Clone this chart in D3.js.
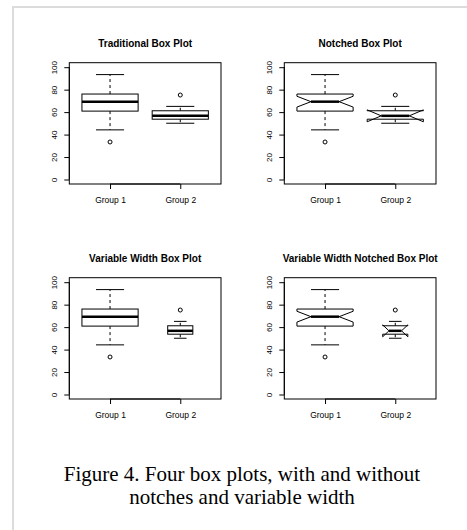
<!DOCTYPE html>
<html>
<head>
<meta charset="utf-8">
<script src="https://cdn.jsdelivr.net/npm/d3@7"></script>
<style>
  html, body { margin: 0; padding: 0; background: #fff; }
  svg { display: block; }
</style>
</head>
<body>
<svg id="fig" width="467" height="530"></svg>
<script>
// Group names and five-number summaries (lower whisker, Q1, median, Q3, upper whisker)
const groups = ["Group 1", "Group 2"];
const lowerWhisker = [44.2, 50.1];
const q1 = [60.9, 53.7];
const medians = [69.3, 56.7];
const q3 = [76.1, 61.2];
const upperWhisker = [93.4, 65.1];
const outliers = [[33.4], [75.2]];
const counts = [25, 5];
const yTicks = [0, 20, 40, 60, 80, 100];

const panels = [
  { title: "Traditional Box Plot", notch: false, varwidth: false },
  { title: "Notched Box Plot", notch: true, varwidth: false },
  { title: "Variable Width Box Plot", notch: false, varwidth: true },
  { title: "Variable Width Notched Box Plot", notch: true, varwidth: true }
];

const svg = d3.select("#fig");
svg.append("rect").attr("width", 467).attr("height", 530).attr("fill", "#fff");

// thin grey frame (left and top edges)
svg.append("path")
  .attr("d", "M13,530 L13,7 L467,7")
  .attr("fill", "none")
  .attr("stroke", "#dcdcdc")
  .attr("stroke-width", 2);

const plotW = 151.7, plotH = 121.3;
const origins = [[69.3, 62.7], [284.3, 62.7], [69.3, 277.7], [284.3, 277.7]];

const x = d3.scaleLinear().domain([0.42, 2.58]).range([0, plotW]);
const y = d3.scaleLinear().domain([-4, 104]).range([plotH, 0]);

const sans = "'Liberation Sans', Arial, Helvetica, sans-serif";
const maxN = d3.max(counts);

panels.forEach((p, pi) => {
  const [ox, oy] = origins[pi];
  const g = svg.append("g").attr("transform", `translate(${ox},${oy})`);

  // title
  g.append("text")
    .attr("x", plotW / 2).attr("y", -15.5)
    .attr("text-anchor", "middle")
    .attr("font-family", sans).attr("font-weight", "bold").attr("font-size", 10)
    .attr("fill", "#000")
    .text(p.title);

  // y axis
  const ya = g.append("g")
    .call(d3.axisLeft(y).tickValues(yTicks).tickSize(5).tickFormat(d3.format("d")));
  ya.select(".domain").attr("d", `M0,${y(0)}V${y(100)}`).attr("stroke", "#000");
  ya.selectAll(".tick line").attr("stroke", "#000");
  ya.selectAll(".tick text")
    .attr("x", 0).attr("y", -12).attr("dy", 0)
    .attr("transform", "rotate(-90)")
    .attr("text-anchor", "middle")
    .attr("font-family", sans).attr("font-size", 8).attr("fill", "#000");

  // x axis
  const xa = g.append("g").attr("transform", `translate(0,${plotH})`)
    .call(d3.axisBottom(x).tickValues([1, 2]).tickSize(5).tickFormat((d, i) => groups[i]));
  xa.select(".domain").attr("d", `M${x(1)},0H${x(2)}`).attr("stroke", "#000");
  xa.selectAll(".tick line").attr("stroke", "#000");
  xa.selectAll(".tick text")
    .attr("y", 19).attr("dy", 0)
    .attr("font-family", sans).attr("font-size", 8.5).attr("fill", "#000");

  // plot frame
  g.append("rect")
    .attr("x", 0).attr("y", 0).attr("width", plotW).attr("height", plotH)
    .attr("fill", "none").attr("stroke", "#000").attr("stroke-width", 1);

  groups.forEach((name, i) => {
    const cx = x(i + 1);
    const wUnits = p.varwidth ? 0.8 * Math.sqrt(counts[i] / maxN) : 0.8;
    const hw = (x(1 + wUnits / 2) - x(1)); // half box width in px
    const capHw = hw / 2;
    const ink = "#000";

    // whiskers (dashed) and caps
    g.append("line")
      .attr("x1", cx).attr("x2", cx)
      .attr("y1", y(q3[i])).attr("y2", y(upperWhisker[i]))
      .attr("stroke", ink).attr("stroke-dasharray", "3,3");
    g.append("line")
      .attr("x1", cx).attr("x2", cx)
      .attr("y1", y(q1[i])).attr("y2", y(lowerWhisker[i]))
      .attr("stroke", ink).attr("stroke-dasharray", "3,3");
    [upperWhisker[i], lowerWhisker[i]].forEach(v => {
      g.append("line")
        .attr("x1", cx - capHw).attr("x2", cx + capHw)
        .attr("y1", y(v)).attr("y2", y(v))
        .attr("stroke", ink);
    });

    if (p.notch) {
      const half = 1.58 * (q3[i] - q1[i]) / Math.sqrt(counts[i]);
      const lo = medians[i] - half, hi = medians[i] + half;
      const pts = [
        [-hw, q1[i]], [hw, q1[i]], [hw, lo], [hw / 2, medians[i]], [hw, hi],
        [hw, q3[i]], [-hw, q3[i]], [-hw, hi], [-hw / 2, medians[i]], [-hw, lo]
      ];
      g.append("path")
        .attr("d", d3.line().x(d => cx + d[0]).y(d => y(d[1]))(pts) + "Z")
        .attr("fill", "#fff").attr("stroke", ink).attr("stroke-width", 1);
      g.append("line")
        .attr("x1", cx - hw / 2).attr("x2", cx + hw / 2)
        .attr("y1", y(medians[i])).attr("y2", y(medians[i]))
        .attr("stroke", ink).attr("stroke-width", 2.5);
    } else {
      g.append("rect")
        .attr("x", cx - hw).attr("width", 2 * hw)
        .attr("y", y(q3[i])).attr("height", y(q1[i]) - y(q3[i]))
        .attr("fill", "#fff").attr("stroke", ink).attr("stroke-width", 1);
      g.append("line")
        .attr("x1", cx - hw).attr("x2", cx + hw)
        .attr("y1", y(medians[i])).attr("y2", y(medians[i]))
        .attr("stroke", ink).attr("stroke-width", 2.5);
    }

    outliers[i].forEach(v => {
      g.append("circle")
        .attr("cx", cx).attr("cy", y(v)).attr("r", 2)
        .attr("fill", "none").attr("stroke", ink).attr("stroke-width", 1);
    });
  });
});

// caption
const serif = "'Liberation Serif', 'Times New Roman', Times, serif";
const caption = ["Figure 4. Four box plots, with and without", "notches and variable width"];
svg.append("text")
  .attr("text-anchor", "middle")
  .attr("font-family", serif).attr("font-size", 21).attr("fill", "#000")
  .selectAll("tspan").data(caption).join("tspan")
  .attr("x", 242)
  .attr("y", (d, i) => 481 + i * 23.3)
  .text(d => d);
</script>
</body>
</html>
